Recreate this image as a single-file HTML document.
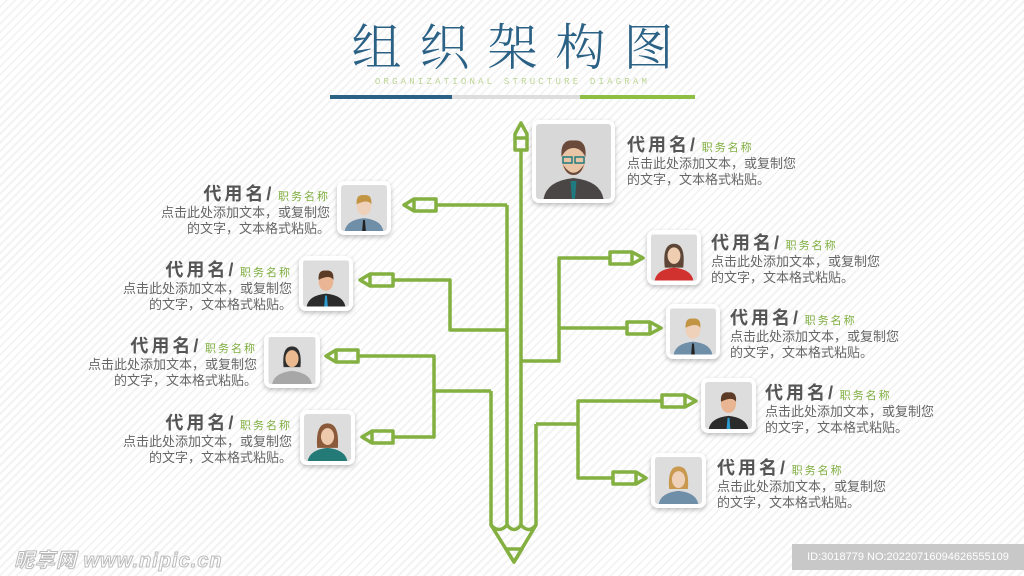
<!DOCTYPE html>
<html><head><meta charset="utf-8">
<style>
*{margin:0;padding:0;box-sizing:border-box}
body{width:1024px;height:576px;overflow:hidden;position:relative;font-family:"Liberation Sans","Noto Sans CJK SC",sans-serif;
background:#fff repeating-linear-gradient(135deg,#fff 0 4px,#f3f3f3 4px 6px);}
.title{position:absolute;left:330px;top:18px;width:365px;text-align:center;font-family:"Liberation Serif","Noto Serif CJK SC",serif;font-size:50px;color:#2a6185;letter-spacing:18px;padding-left:18px;line-height:60px;font-weight:300}
.sub{position:absolute;left:330px;top:77px;width:365px;text-align:center;font-size:9px;letter-spacing:3.2px;color:#bcd494;font-family:"Liberation Mono",monospace}
.bar{position:absolute;top:95px;height:4px}
.ph{position:absolute;border-radius:7px;background:#fff;padding:4px;box-shadow:0 2px 5px rgba(0,0,0,.25)}
.ph svg{display:block;border-radius:3px;width:100%;height:100%}
.t{position:absolute;color:#666;font-size:13px;line-height:16px;white-space:nowrap}
.t b{font-size:18px;color:#555;letter-spacing:3px;line-height:22px}
.t i{font-style:normal;font-size:11px;color:#7fae3e;letter-spacing:2px}
.t.l{text-align:right}
.wm{position:absolute;left:14px;top:544px;font-size:20px;color:#fff;font-weight:bold;-webkit-text-stroke:1px #bbb;letter-spacing:1px;font-style:italic}
.id{position:absolute;left:792px;top:544px;width:232px;height:26px;background:#c8c8c8;color:#fff;font-size:11px;line-height:26px;text-align:center}
</style></head><body>
<div class="title">组织架构图</div>
<div class="sub">ORGANIZATIONAL STRUCTURE DIAGRAM</div>
<div class="bar" style="left:330px;width:122px;background:#2a6185"></div>
<div class="bar" style="left:452px;width:128px;background:#ddd"></div>
<div class="bar" style="left:580px;width:115px;background:#8dbf45"></div>

<svg width="1024" height="576" style="position:absolute;left:0;top:0" fill="none" stroke="#83b041" stroke-width="3.5" stroke-linejoin="round">
<path d="M507 205 V525 M521 150 V525 M491 391 V525 M536 424 V525"/>
<path d="M491 525 Q499 534 507 525 Q514 534 521 525 Q529 534 536 525 L514 562 Z"/>
<path d="M506 549 L522 549 L514 562 Z"/>
<path d="M515 150 V134 L521 123 L527 134 V150 Z M515 138 H527"/>
<path d="M436 205 H507"/>
<path d="M393 280 H450 V330 H507"/>
<path d="M358 356 H434 V437 H393 M434 391 H491"/>
<path d="M521 361 H559 V258 H610 M559 328 H627"/>
<path d="M536 424 H578 V401 H662 M578 424 V478 H613"/>
<g>
<path d="M436 199 H414 L404 205 L414 211 H436 Z M414 199 V211"/>
<path d="M393 274 H370 L360 280 L370 286 H393 Z M370 274 V286"/>
<path d="M358 350 H336 L326 356 L336 362 H358 Z M336 350 V362"/>
<path d="M393 431 H372 L362 437 L372 443 H393 Z M372 431 V443"/>
<path d="M610 252 H632 L643 258 L632 264 H610 Z M632 252 V264"/>
<path d="M627 322 H650 L661 328 L650 334 H627 Z M650 322 V334"/>
<path d="M662 395 H685 L696 401 L685 407 H662 Z M685 395 V407"/>
<path d="M613 472 H636 L646 478 L636 484 H613 Z M636 472 V484"/>
</g>
</svg>

<div class="ph" style="left:532px;top:120px;width:83px;height:83px"><svg viewBox="0 0 50 50"><rect width="50" height="50" fill="#d8d8d8"/><path d="M5 50 Q7 38 25 36 Q43 38 45 50Z" fill="#4a4645"/><path d="M23 38 h4 l-1 12 h-2z" fill="#1f7b80"/><ellipse cx="25" cy="24" rx="8" ry="10" fill="#e9c4a5"/><path d="M17 22 Q16 10 25 11 Q34 10 33 22 Q30 16 25 16 Q20 16 17 22Z" fill="#6a4a3a"/><path d="M18 27 Q25 38 32 27 Q30 34 25 34 Q20 34 18 27Z" fill="#6a4a3a"/><rect x="18" y="22" width="6" height="4" fill="none" stroke="#1f7b80"/><rect x="26" y="22" width="6" height="4" fill="none" stroke="#1f7b80"/></svg></div>
<div class="ph" style="left:337px;top:181px;width:54px;height:54px"><svg viewBox="0 0 50 50"><rect width="50" height="50" fill="#ddd"/><path d="M4 50 Q6 38 25 36 Q44 38 46 50Z" fill="#6f8ea8"/><path d="M24 38 h2 l1 12 h-4z" fill="#222"/><ellipse cx="25" cy="23" rx="8" ry="10" fill="#efd0b8"/><path d="M17 21 Q16 10 25 11 Q34 10 33 21 Q29 15 17 21Z" fill="#c29545"/></svg></div>
<div class="ph" style="left:299px;top:256px;width:54px;height:55px"><svg viewBox="0 0 50 50"><rect width="50" height="50" fill="#ddd"/><path d="M4 50 Q6 38 25 36 Q44 38 46 50Z" fill="#2b2b2b"/><path d="M24 38 h2 l1 12 h-4z" fill="#2b9bd0"/><ellipse cx="25" cy="23" rx="8" ry="10" fill="#e9b593"/><path d="M17 21 Q16 10 25 11 Q34 10 33 21 Q29 15 17 21Z" fill="#5b3b26"/></svg></div>
<div class="ph" style="left:264px;top:333px;width:56px;height:55px"><svg viewBox="0 0 50 50"><rect width="50" height="50" fill="#ddd"/><path d="M4 50 Q6 38 25 36 Q44 38 46 50Z" fill="#a7a7a7"/><path d="M16 32 Q14 10 25 10 Q36 10 34 32Z" fill="#2f2f2f"/><ellipse cx="25" cy="23" rx="7" ry="9" fill="#eab98f"/></svg></div>
<div class="ph" style="left:300px;top:410px;width:55px;height:55px"><svg viewBox="0 0 50 50"><rect width="50" height="50" fill="#ddd"/><path d="M4 50 Q6 38 25 36 Q44 38 46 50Z" fill="#237a77"/><path d="M14 36 Q12 10 25 10 Q38 10 36 36Z" fill="#8a5a3a"/><ellipse cx="25" cy="24" rx="7" ry="9" fill="#efc9ab"/></svg></div>
<div class="ph" style="left:647px;top:230px;width:54px;height:55px"><svg viewBox="0 0 50 50"><rect width="50" height="50" fill="#ddd"/><path d="M4 50 Q6 38 25 36 Q44 38 46 50Z" fill="#d1312f"/><path d="M15 36 Q12 10 25 10 Q38 10 35 36Z" fill="#5e4636"/><ellipse cx="25" cy="23" rx="7" ry="9" fill="#efcdb0"/></svg></div>
<div class="ph" style="left:666px;top:304px;width:54px;height:55px"><svg viewBox="0 0 50 50"><rect width="50" height="50" fill="#ddd"/><path d="M4 50 Q6 38 25 36 Q44 38 46 50Z" fill="#6f8ea8"/><path d="M24 38 h2 l1 12 h-4z" fill="#222"/><ellipse cx="25" cy="23" rx="8" ry="10" fill="#efd0b8"/><path d="M17 21 Q16 10 25 11 Q34 10 33 21 Q29 15 17 21Z" fill="#c29545"/></svg></div>
<div class="ph" style="left:701px;top:378px;width:55px;height:55px"><svg viewBox="0 0 50 50"><rect width="50" height="50" fill="#ddd"/><path d="M4 50 Q6 38 25 36 Q44 38 46 50Z" fill="#2b2b2b"/><path d="M24 38 h2 l1 12 h-4z" fill="#2b9bd0"/><ellipse cx="25" cy="23" rx="8" ry="10" fill="#e9b593"/><path d="M17 21 Q16 10 25 11 Q34 10 33 21 Q29 15 17 21Z" fill="#5b3b26"/></svg></div>
<div class="ph" style="left:651px;top:453px;width:55px;height:55px"><svg viewBox="0 0 50 50"><rect width="50" height="50" fill="#ddd"/><path d="M4 50 Q6 38 25 36 Q44 38 46 50Z" fill="#6f8ea8"/><path d="M15 34 Q13 10 25 10 Q37 10 35 34Z" fill="#c8994f"/><ellipse cx="25" cy="24" rx="7" ry="9" fill="#efd0b8"/></svg></div>

<div class="t l" style="right:694px;top:183px"><b>代用名/</b> <i>职务名称</i><br>点击此处添加文本，或复制您<br>的文字，文本格式粘贴。</div>
<div class="t l" style="right:732px;top:259px"><b>代用名/</b> <i>职务名称</i><br>点击此处添加文本，或复制您<br>的文字，文本格式粘贴。</div>
<div class="t l" style="right:767px;top:335px"><b>代用名/</b> <i>职务名称</i><br>点击此处添加文本，或复制您<br>的文字，文本格式粘贴。</div>
<div class="t l" style="right:732px;top:412px"><b>代用名/</b> <i>职务名称</i><br>点击此处添加文本，或复制您<br>的文字，文本格式粘贴。</div>
<div class="t" style="left:627px;top:134px"><b>代用名/</b> <i>职务名称</i><br>点击此处添加文本，或复制您<br>的文字，文本格式粘贴。</div>
<div class="t" style="left:711px;top:232px"><b>代用名/</b> <i>职务名称</i><br>点击此处添加文本，或复制您<br>的文字，文本格式粘贴。</div>
<div class="t" style="left:730px;top:307px"><b>代用名/</b> <i>职务名称</i><br>点击此处添加文本，或复制您<br>的文字，文本格式粘贴。</div>
<div class="t" style="left:765px;top:382px"><b>代用名/</b> <i>职务名称</i><br>点击此处添加文本，或复制您<br>的文字，文本格式粘贴。</div>
<div class="t" style="left:717px;top:457px"><b>代用名/</b> <i>职务名称</i><br>点击此处添加文本，或复制您<br>的文字，文本格式粘贴。</div>

<div class="wm">昵享网 www.nipic.cn</div>
<div class="id">ID:3018779 NO:20220716094626555109</div>
</body></html>
